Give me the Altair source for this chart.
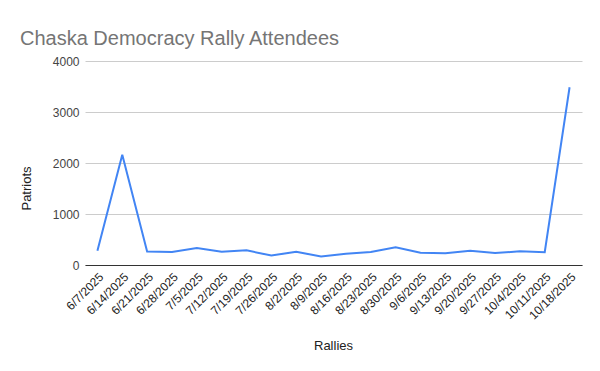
import altair as alt
import pandas as pd

dates = ["6/7/2025", "6/14/2025", "6/21/2025", "6/28/2025", "7/5/2025", "7/12/2025",
         "7/19/2025", "7/26/2025", "8/2/2025", "8/9/2025", "8/16/2025", "8/23/2025",
         "8/30/2025", "9/6/2025", "9/13/2025", "9/20/2025", "9/27/2025", "10/4/2025",
         "10/11/2025", "10/18/2025"]
patriots = [280, 2160, 265, 255, 333, 260, 287, 185, 260, 165, 222, 255,
            346, 241, 230, 280, 235, 268, 250, 3485]
y_ticks = [0, 1000, 2000, 3000, 4000]

df = pd.DataFrame({"date": dates, "patriots": patriots})

font = "Liberation Sans"

chart = alt.Chart(df).mark_line(color="#4285F4", strokeWidth=2).encode(
    x=alt.X("date:N", sort=dates,
            scale=alt.Scale(type="point", padding=0.5),
            axis=alt.Axis(title="Rallies", labelAngle=-45, labelAlign="right",
                          labelBaseline="top", labelFontSize=12, labelFont=font,
                          labelColor="#222222", labelPadding=6, ticks=False,
                          domain=True, domainColor="#333333", domainWidth=1,
                          grid=False, titleFont=font, titleFontSize=13,
                          titleFontWeight="normal", titleColor="#222222",
                          titleX=248, titleY=80, titleBaseline="middle",
                          titleAlign="center")),
    y=alt.Y("patriots:Q",
            scale=alt.Scale(domain=[0, 4000], nice=False),
            axis=alt.Axis(title="Patriots", values=y_ticks, format="d", labelFontSize=12,
                          labelFont=font, labelColor="#444444", labelPadding=6,
                          ticks=False, domain=False, grid=True, gridColor="#cccccc",
                          titleFont=font, titleFontSize=13, titleFontWeight="normal",
                          titleColor="#222222", titleX=-59, titleY=127,
                          titleBaseline="middle", titleAlign="center", titleAngle=-90))
).properties(
    width=497,
    height=204,
    autosize=alt.AutoSizeParams(type="none"),
    padding={"left": 77, "top": 53, "right": 10, "bottom": 98},
    title=alt.TitleParams("Chaska Democracy Rally Attendees", anchor="start",
                          frame="group", dx=-65, dy=33, offset=23, baseline="alphabetic",
                          font=font, fontSize=20, fontWeight="normal",
                          color="#757575")
).configure_view(stroke=None)

chart.save("out.html", embed_options={"renderer": "svg", "actions": False})
